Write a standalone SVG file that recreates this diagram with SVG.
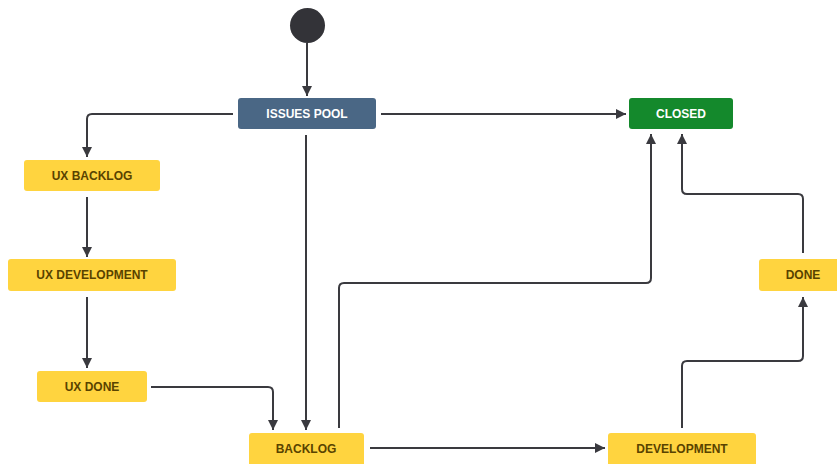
<svg xmlns="http://www.w3.org/2000/svg" width="837" height="464" viewBox="0 0 837 464">
  <style>
    .bg { fill: #ffffff; }
    .edge { fill: none; stroke: #3a3a3f; stroke-width: 2; }
    .todo rect { fill: #ffd43f; }
    .todo text { fill: #594300; }
    .blue rect { fill: #4a6785; }
    .green rect { fill: #14892c; }
    .blue text, .green text { fill: #ffffff; }
    text { font-family: "Liberation Sans", Arial, sans-serif; font-size: 12px; font-weight: bold; text-anchor: middle; dominant-baseline: central; }
  </style>
  <defs>
    <marker id="arrow" viewBox="0 0 10 10" refX="10" refY="5" markerWidth="10" markerHeight="10" markerUnits="userSpaceOnUse" orient="auto">
      <path d="M0,0 L10,5 L0,10 Z" fill="#3a3a3f"/>
    </marker>
  </defs>
  <rect class="bg" x="0" y="0" width="837" height="464"/>

  <g id="connectors">
    <!-- start to issues pool -->
    <path class="edge" d="M307,43 V96" marker-end="url(#arrow)"/>
    <!-- issues pool to ux backlog -->
    <path class="edge" d="M233,114 H92 Q87,114 87,119 V157" marker-end="url(#arrow)"/>
    <!-- ux backlog to ux development -->
    <path class="edge" d="M87,197 V257" marker-end="url(#arrow)"/>
    <!-- ux development to ux done -->
    <path class="edge" d="M87,297 V368" marker-end="url(#arrow)"/>
    <!-- ux done to backlog -->
    <path class="edge" d="M151,387 H268 Q273,387 273,392 V430" marker-end="url(#arrow)"/>
    <!-- issues pool to backlog -->
    <path class="edge" d="M306,135 V430" marker-end="url(#arrow)"/>
    <!-- backlog to closed -->
    <path class="edge" d="M339,428 V288 Q339,283 344,283 H646 Q651,283 651,278 V134" marker-end="url(#arrow)"/>
    <!-- issues pool to closed -->
    <path class="edge" d="M381,114 H626" marker-end="url(#arrow)"/>
    <!-- backlog to development -->
    <path class="edge" d="M370,448 H605" marker-end="url(#arrow)"/>
    <!-- development to done -->
    <path class="edge" d="M682,428 V366 Q682,361 687,361 H798 Q803,361 803,356 V297" marker-end="url(#arrow)"/>
    <!-- done to closed -->
    <path class="edge" d="M803,253 V199 Q803,194 798,194 H687 Q682,194 682,189 V134" marker-end="url(#arrow)"/>
  </g>

  <g id="start">
    <circle cx="307.5" cy="25.5" r="17.5" fill="#333338"/>
  </g>

  <g id="issues-pool" class="blue">
    <rect x="238" y="98" width="138" height="31" rx="3"/>
    <text x="307" y="114">ISSUES POOL</text>
  </g>

  <g id="closed" class="green">
    <rect x="629" y="98" width="104" height="31" rx="3"/>
    <text x="681" y="114">CLOSED</text>
  </g>

  <g id="ux-backlog" class="todo">
    <rect x="24" y="160" width="136" height="31" rx="3"/>
    <text x="92" y="176">UX BACKLOG</text>
  </g>

  <g id="ux-development" class="todo">
    <rect x="8" y="259" width="168" height="32" rx="3"/>
    <text x="92" y="275">UX DEVELOPMENT</text>
  </g>

  <g id="ux-done" class="todo">
    <rect x="37" y="371" width="110" height="31" rx="3"/>
    <text x="92" y="387">UX DONE</text>
  </g>

  <g id="backlog" class="todo">
    <rect x="249" y="433" width="115" height="33" rx="3"/>
    <text x="306" y="449">BACKLOG</text>
  </g>

  <g id="development" class="todo">
    <rect x="608" y="433" width="148" height="33" rx="3"/>
    <text x="682" y="449">DEVELOPMENT</text>
  </g>

  <g id="done" class="todo">
    <rect x="759" y="259" width="88" height="32" rx="3"/>
    <text x="803" y="275">DONE</text>
  </g>
</svg>
